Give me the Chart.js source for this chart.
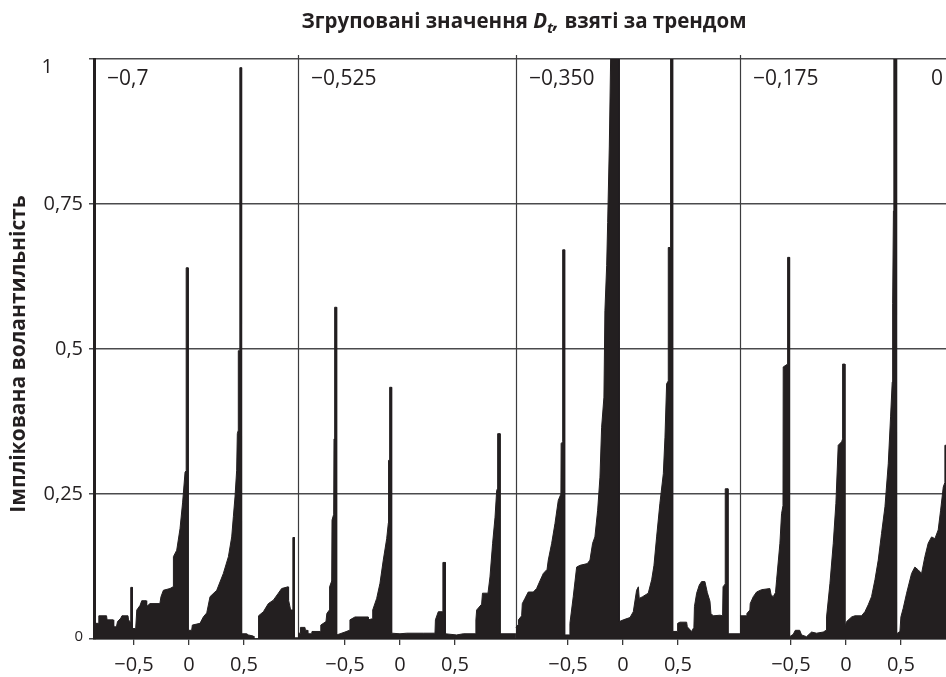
<!DOCTYPE html>
<html lang="uk">
<head>
<meta charset="utf-8">
<title>Згруповані значення Dt, взяті за трендом</title>
<script src="https://cdn.jsdelivr.net/npm/chart.js@4.4.1/dist/chart.umd.min.js"></script>
<style>
  html, body { margin: 0; padding: 0; background: #ffffff; }
  #wrap { position: relative; width: 946px; height: 677px; }
</style>
</head>
<body>
<div id="wrap"><canvas id="chart"></canvas></div>
<script>
// Panel captions: grouped D_t values
const PANEL_LABELS = ['−0,7', '−0,525', '−0,350', '−0,175', '0'];
// Local x-range shown inside each panel
const PANEL_DOMAINS = [[-0.864, 0.991], [-0.927, 1.054], [-0.973, 1.064], [-0.963, 1.05], [-1, 1]];
// Where the visible axis ends (panel index, local x)
const VIEW_END = { panel: 3, x: 0.91 };
const X_TICKS = [-0.5, 0, 0.5];
const Y_TICKS = [0, 0.25, 0.5, 0.75, 1];
const Y_TICK_LABELS = ['0', '0,25', '0,5', '0,75', '1'];

// Implied volatility profiles, [x, volatility] per panel
const PANEL_1 = [[-0.864,0.027],[-0.824,0.027],[-0.820,0.040],[-0.750,0.040],[-0.745,0.033],[-0.690,0.033],[-0.685,0.021],[-0.660,0.021],[-0.650,0.030],[-0.620,0.036],[-0.610,0.040],[-0.555,0.040],[-0.550,0.033],[-0.530,0.028],[-0.530,0.089],[-0.515,0.089],[-0.515,0.018],[-0.485,0.018],[-0.475,0.050],[-0.445,0.058],[-0.430,0.066],[-0.390,0.066],[-0.385,0.056],[-0.355,0.061],[-0.265,0.061],[-0.255,0.073],[-0.233,0.084],[-0.173,0.087],[-0.145,0.090],[-0.142,0.142],[-0.112,0.153],[-0.082,0.190],[-0.058,0.236],[-0.036,0.288],[-0.026,0.290],[-0.026,0.640],[-0.008,0.640],[-0.008,0.015],[0.024,0.015],[0.030,0.024],[0.100,0.027],[0.130,0.038],[0.161,0.045],[0.191,0.073],[0.252,0.084],[0.312,0.113],[0.358,0.142],[0.388,0.176],[0.403,0.211],[0.418,0.245],[0.433,0.291],[0.439,0.354],[0.448,0.360],[0.448,0.497],[0.462,0.497],[0.462,0.985],[0.478,0.985],[0.478,0.009],[0.524,0.009],[0.540,0.007],[0.585,0.005],[0.590,0.000],[0.628,0.000],[0.632,0.040],[0.676,0.047],[0.721,0.061],[0.767,0.067],[0.812,0.079],[0.842,0.087],[0.900,0.090],[0.905,0.067],[0.924,0.050],[0.944,0.050],[0.944,0.175],[0.958,0.175],[0.958,0.002],[0.991,0.002]];
const PANEL_2 = [[-0.927,0.010],[-0.909,0.010],[-0.905,0.020],[-0.864,0.020],[-0.860,0.015],[-0.842,0.015],[-0.838,0.009],[-0.803,0.009],[-0.800,0.013],[-0.727,0.013],[-0.720,0.024],[-0.673,0.030],[-0.665,0.044],[-0.642,0.050],[-0.640,0.090],[-0.621,0.100],[-0.618,0.205],[-0.603,0.215],[-0.600,0.345],[-0.594,0.345],[-0.594,0.572],[-0.576,0.572],[-0.576,0.007],[-0.545,0.009],[-0.500,0.012],[-0.460,0.015],[-0.455,0.033],[-0.409,0.038],[-0.290,0.038],[-0.288,0.033],[-0.250,0.035],[-0.248,0.050],[-0.212,0.070],[-0.182,0.096],[-0.152,0.136],[-0.121,0.173],[-0.106,0.200],[-0.104,0.308],[-0.094,0.308],[-0.094,0.434],[-0.076,0.434],[-0.076,0.010],[0.000,0.009],[0.061,0.010],[0.212,0.010],[0.318,0.010],[0.322,0.033],[0.348,0.047],[0.390,0.047],[0.390,0.132],[0.412,0.132],[0.412,0.009],[0.515,0.007],[0.576,0.009],[0.682,0.009],[0.690,0.033],[0.697,0.050],[0.742,0.060],[0.750,0.079],[0.800,0.079],[0.818,0.107],[0.842,0.165],[0.864,0.210],[0.879,0.256],[0.888,0.260],[0.888,0.354],[0.910,0.354],[0.910,0.009],[1.054,0.009]];
const PANEL_3 = [[-0.973,0.020],[-0.952,0.025],[-0.950,0.033],[-0.921,0.040],[-0.915,0.061],[-0.891,0.070],[-0.861,0.081],[-0.815,0.081],[-0.785,0.087],[-0.755,0.100],[-0.724,0.113],[-0.690,0.120],[-0.679,0.136],[-0.648,0.165],[-0.618,0.199],[-0.588,0.239],[-0.564,0.250],[-0.562,0.337],[-0.548,0.340],[-0.548,0.671],[-0.530,0.671],[-0.530,0.007],[-0.485,0.007],[-0.482,0.027],[-0.452,0.073],[-0.421,0.124],[-0.391,0.127],[-0.324,0.130],[-0.300,0.136],[-0.276,0.165],[-0.255,0.176],[-0.230,0.222],[-0.209,0.279],[-0.194,0.365],[-0.173,0.417],[-0.164,0.566],[-0.148,0.644],[-0.139,0.718],[-0.124,0.850],[-0.112,1.000],[-0.033,1.000],[-0.033,0.030],[0.003,0.033],[0.064,0.037],[0.094,0.047],[0.124,0.084],[0.140,0.090],[0.148,0.070],[0.179,0.073],[0.230,0.079],[0.261,0.102],[0.282,0.127],[0.306,0.176],[0.336,0.234],[0.367,0.285],[0.382,0.348],[0.397,0.440],[0.412,0.445],[0.412,0.675],[0.433,0.675],[0.433,1.000],[0.452,1.000],[0.452,0.013],[0.494,0.013],[0.497,0.027],[0.518,0.029],[0.579,0.029],[0.585,0.021],[0.624,0.013],[0.645,0.020],[0.650,0.056],[0.670,0.079],[0.694,0.093],[0.715,0.099],[0.745,0.099],[0.767,0.080],[0.791,0.065],[0.800,0.044],[0.821,0.040],[0.882,0.041],[0.906,0.040],[0.910,0.090],[0.930,0.095],[0.930,0.259],[0.955,0.259],[0.955,0.009],[1.064,0.009]];
const PANEL_4 = [[-0.963,0.040],[-0.903,0.040],[-0.900,0.044],[-0.873,0.050],[-0.870,0.061],[-0.842,0.073],[-0.812,0.081],[-0.767,0.085],[-0.691,0.087],[-0.680,0.076],[-0.661,0.073],[-0.640,0.080],[-0.630,0.102],[-0.600,0.165],[-0.585,0.216],[-0.572,0.230],[-0.570,0.469],[-0.530,0.474],[-0.530,0.658],[-0.512,0.658],[-0.512,0.004],[-0.479,0.008],[-0.460,0.015],[-0.420,0.015],[-0.403,0.007],[-0.358,0.004],[-0.312,0.012],[-0.267,0.010],[-0.206,0.012],[-0.180,0.015],[-0.176,0.038],[-0.145,0.096],[-0.115,0.165],[-0.091,0.234],[-0.070,0.334],[-0.039,0.340],[-0.030,0.345],[-0.030,0.474],[-0.009,0.474],[-0.009,0.021],[0.006,0.030],[0.052,0.038],[0.082,0.040],[0.142,0.040],[0.173,0.047],[0.203,0.059],[0.233,0.073],[0.264,0.102],[0.294,0.136],[0.324,0.182],[0.355,0.228],[0.385,0.302],[0.406,0.383],[0.421,0.443],[0.425,0.578],[0.432,0.738],[0.436,1.000],[0.461,1.000],[0.461,0.009],[0.491,0.013],[0.500,0.038],[0.521,0.053],[0.552,0.079],[0.597,0.113],[0.627,0.124],[0.658,0.119],[0.688,0.113],[0.718,0.142],[0.748,0.165],[0.779,0.176],[0.809,0.173],[0.839,0.188],[0.861,0.222],[0.885,0.262],[0.900,0.270],[0.900,0.334],[0.925,0.334],[0.925,0.010],[1.050,0.010]];
const PANEL_SERIES = [PANEL_1, PANEL_2, PANEL_3, PANEL_4];

const FONT = '"Open Sans", "Noto Sans", "DejaVu Sans", sans-serif';
const INK = '#231f20';
const GRID = '#4a4a4c';

// Panels sit side by side on one shared linear axis
const panelStart = [];
const panelZero = [];
let acc = 0;
PANEL_DOMAINS.forEach(([lo, hi]) => {
  panelStart.push(acc);
  panelZero.push(acc - lo);
  acc += hi - lo;
});
const X_MAX = panelZero[VIEW_END.panel] + VIEW_END.x;

const fmt = v => v === 0 ? '0' : (v < 0 ? '−' : '') + String(Math.abs(v)).replace('.', ',');

const xTicks = [];
panelZero.forEach(z => X_TICKS.forEach(t => {
  const v = z + t;
  if (v >= 0 && v <= X_MAX) xTicks.push({ value: v, label: fmt(t) });
}));

const datasets = PANEL_SERIES.map((pts, k) => ({
  data: pts.map(([x, y]) => ({ x: panelZero[k] + x, y })),
  borderColor: INK,
  backgroundColor: INK,
  borderWidth: 1,
  fill: 'origin',
  pointRadius: 0,
  tension: 0
}));

const decorations = {
  id: 'decorations',
  beforeDatasetsDraw(chart) {
    const { ctx, chartArea: a, scales: { x } } = chart;
    ctx.save();
    ctx.strokeStyle = '#3c3c3e';
    ctx.lineWidth = 1.2;
    panelStart.forEach((s, k) => {
      if (k === 0 || s > x.max) return;
      const px = Math.round(x.getPixelForValue(s)) + 0.5;
      ctx.beginPath();
      ctx.moveTo(px, a.top - 4);
      ctx.lineTo(px, a.bottom);
      ctx.stroke();
    });
    ctx.restore();
  },
  afterDraw(chart) {
    const { ctx, chartArea: a, scales: { x, y } } = chart;
    ctx.save();
    ctx.fillStyle = INK;

    // panel captions
    ctx.font = `21px ${FONT}`;
    ctx.textAlign = 'left';
    ctx.textBaseline = 'middle';
    PANEL_LABELS.forEach((lab, k) => {
      const w = ctx.measureText(lab).width;
      let px = x.getPixelForValue(panelStart[k]) + 13;
      px = Math.min(px, a.right - w - 3);
      ctx.fillText(lab, px, a.top + 20);
    });

    // y tick labels
    ctx.textAlign = 'right';
    Y_TICKS.forEach((v, i) => {
      let py = y.getPixelForValue(v);
      let px = a.left - 11;
      ctx.font = `20px ${FONT}`;
      if (v === 0) { ctx.font = `15px ${FONT}`; py -= 2; }
      if (v === 1) { px = a.left - 41; py += 8; }
      ctx.fillText(Y_TICK_LABELS[i], px, py);
    });

    // y axis title
    ctx.save();
    ctx.translate(19, (a.top + a.bottom) / 2 + 5);
    ctx.rotate(-Math.PI / 2);
    ctx.textAlign = 'center';
    ctx.font = `bold 21px ${FONT}`;
    ctx.fillText('Імплікована волантильність', 0, 0);
    ctx.restore();

    // chart title with italic D and subscript t
    const parts = [
      { t: 'Згруповані значення ', f: `bold 20.5px ${FONT}`, dy: 0 },
      { t: 'D', f: `italic bold 20.5px ${FONT}`, dy: 0 },
      { t: 't', f: `italic bold 15px ${FONT}`, dy: 5 },
      { t: ',', f: `italic bold 20.5px ${FONT}`, dy: 0 },
      { t: ' взяті за трендом', f: `bold 20.5px ${FONT}`, dy: 0 }
    ];
    ctx.textAlign = 'left';
    ctx.textBaseline = 'alphabetic';
    let total = 0;
    parts.forEach(p => { ctx.font = p.f; p.w = ctx.measureText(p.t).width; total += p.w; });
    let tx = (a.left + a.right) / 2 + 4 - total / 2;
    parts.forEach(p => { ctx.font = p.f; ctx.fillText(p.t, tx, 28 + p.dy); tx += p.w; });
    ctx.restore();
  }
};

new Chart(document.getElementById('chart'), {
  type: 'line',
  data: { datasets },
  options: {
    responsive: true,
    maintainAspectRatio: false,
    animation: false,
    layout: { padding: { top: 59, left: 0, right: 0, bottom: 0 } },
    plugins: { legend: { display: false }, title: { display: false }, tooltip: { enabled: false } },
    scales: {
      x: {
        type: 'linear',
        min: 0,
        max: X_MAX,
        afterBuildTicks: s => { s.ticks = xTicks.map(t => ({ value: t.value })); },
        afterFit: s => { s.height = 38; },
        ticks: {
          autoSkip: false,
          maxRotation: 0,
          padding: 8,
          color: INK,
          font: { family: FONT, size: 20 },
          callback: (v, i) => (xTicks[i] ? xTicks[i].label : '')
        },
        grid: { drawOnChartArea: false, drawTicks: true, tickLength: 6, color: '#3a3a3a', lineWidth: 1.3 },
        border: { display: true, color: '#3a3a3a', width: 1.5 }
      },
      y: {
        min: 0,
        max: 1,
        afterBuildTicks: s => { s.ticks = Y_TICKS.map(v => ({ value: v })); },
        afterFit: s => { s.width = 94; },
        ticks: { display: false },
        grid: { color: GRID, lineWidth: 1.5, drawTicks: true, tickLength: 5 },
        border: { display: true, color: INK, width: 3 }
      }
    }
  },
  plugins: [decorations]
});
</script>
</body>
</html>
